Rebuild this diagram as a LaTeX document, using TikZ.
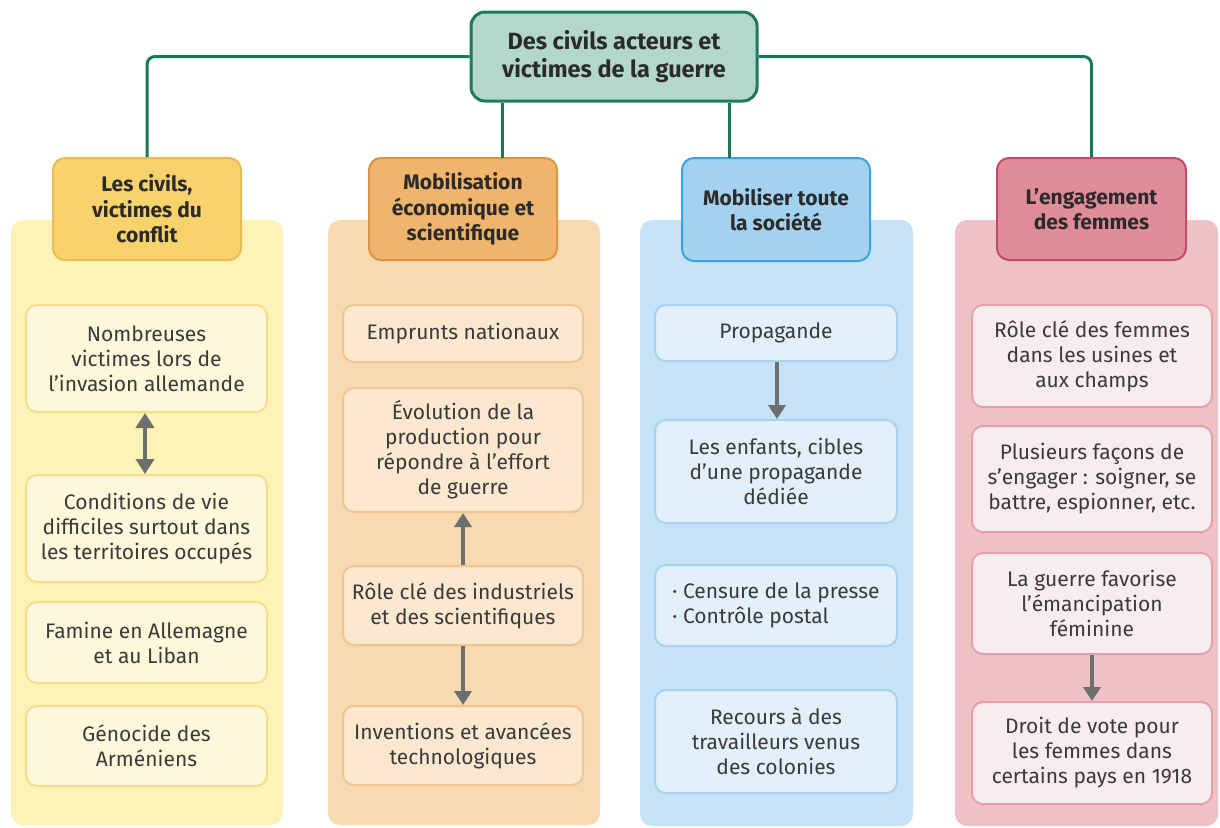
\documentclass[tikz,border=0pt]{standalone}
\usepackage{fontspec}
\setmainfont{Fira Sans}
\usetikzlibrary{arrows.meta}
\definecolor{lineGreen}{HTML}{177A52}
\definecolor{titleFill}{HTML}{B3D8CA}
\definecolor{titleDraw}{HTML}{1E7A58}
\definecolor{pYel}{HTML}{FDF3B6}
\definecolor{hYel}{HTML}{F8D36B}
\definecolor{hYelD}{HTML}{EBBB55}
\definecolor{bYel}{HTML}{FEF8DA}
\definecolor{bYelD}{HTML}{F5DD8C}
\definecolor{pOra}{HTML}{F7D9B2}
\definecolor{hOra}{HTML}{F0B46C}
\definecolor{hOraD}{HTML}{DF9440}
\definecolor{bOra}{HTML}{FBE8CF}
\definecolor{bOraD}{HTML}{F0C590}
\definecolor{pBlu}{HTML}{C5E2F7}
\definecolor{hBlu}{HTML}{A3D2F1}
\definecolor{hBluD}{HTML}{3AA5DC}
\definecolor{bBlu}{HTML}{E2F0FB}
\definecolor{bBluD}{HTML}{A8D3EE}
\definecolor{pRos}{HTML}{EEC1C7}
\definecolor{hRos}{HTML}{E08C99}
\definecolor{hRosD}{HTML}{C14A66}
\definecolor{bRos}{HTML}{F9ECEE}
\definecolor{bRosD}{HTML}{E6A0AB}
\definecolor{arrowGray}{HTML}{6D6E70}
\definecolor{txt}{HTML}{3A3A3A}
\definecolor{txtD}{HTML}{2B2B2B}
\newcommand{\mybox}[7]{\node[#6, minimum width={(#4-#2)*1pt}, minimum height={(#5-#3)*1pt}] (#1) at ({(#2+#4)/2},{(#3+#5)/2}) {#7};}
\begin{document}
\begin{tikzpicture}[x=1pt,y=-1pt,
  panel/.style={fill=#1, rounded corners=12pt},
  titlebox/.style={draw=titleDraw, fill=titleFill, line width=3pt, rounded corners=14pt, inner sep=0pt, align=center, text=txtD, font=\bfseries\fontsize{23.5}{28.5}\selectfont},
  hdr/.style={rounded corners=12pt, line width=2pt, inner sep=0pt, align=center, text=txtD, font=\bfseries\fontsize{21}{25.5}\selectfont},
  item/.style={rounded corners=11pt, line width=2pt, inner sep=0pt, align=center, text=txt, font=\fontsize{21}{25}\selectfont},
  conn/.style={draw=lineGreen, line width=3pt, rounded corners=8pt},
  arr/.style={draw=arrowGray, line width=4pt, -{Triangle[width=17pt,length=14pt]}},
  darr/.style={draw=arrowGray, line width=4pt, {Triangle[width=18pt,length=15pt]}-{Triangle[width=18pt,length=15pt]}}
]
\useasboundingbox (0,0) rectangle (1220,827);
\fill[white] (0,0) rectangle (1220,827);
% panels
\fill[panel=pYel] (11,220) rectangle (283,825);
\fill[panel=pOra] (328,220) rectangle (600,825);
\fill[panel=pBlu] (640,220) rectangle (913,826);
\fill[panel=pRos] (955,220) rectangle (1218,826);
% title
\mybox{t}{471}{12}{757}{101}{titlebox}{Des civils acteurs et\\victimes de la guerre}
% headers
\mybox{h1}{53}{158}{241}{260}{hdr, fill=hYel, draw=hYelD}{Les civils,\\victimes du\\conflit}
\mybox{h2}{369}{158}{557}{260}{hdr, fill=hOra, draw=hOraD}{Mobilisation\\économique et\\scientifique}
\mybox{h3}{682}{158}{870}{261}{hdr, fill=hBlu, draw=hBluD}{Mobiliser toute\\la société}
\mybox{h4}{997}{158}{1186}{260}{hdr, fill=hRos, draw=hRosD}{L’engagement\\des femmes}
% connectors
\draw[conn] (t.west) -| (h1.north);
\draw[conn] (t.east) -| (h4.north);
\coordinate (c2) at (502,158);
\coordinate (c3) at (729,158);
\draw[conn] (t.south -| c2) -- (c2);
\draw[conn] (t.south -| c3) -- (c3);
% column 1
\mybox{a1}{26}{305}{267}{412}{item, fill=bYel, draw=bYelD}{Nombreuses\\victimes lors de\\l’invasion allemande}
\mybox{a2}{26}{475}{267}{582}{item, fill=bYel, draw=bYelD}{Conditions de vie\\difficiles surtout dans\\les territoires occupés}
\mybox{a3}{26}{602}{267}{683}{item, fill=bYel, draw=bYelD}{Famine en Allemagne\\et au Liban}
\mybox{a4}{26}{706}{267}{786}{item, fill=bYel, draw=bYelD}{Génocide des\\Arméniens}
% column 2
\mybox{b1}{343}{305}{583}{362}{item, fill=bOra, draw=bOraD}{Emprunts nationaux}
\mybox{b2}{343}{388}{583}{512}{item, fill=bOra, draw=bOraD}{Évolution de la\\production pour\\répondre à l’effort\\de guerre}
\mybox{b3}{343}{566}{583}{645}{item, fill=bOra, draw=bOraD}{Rôle clé des industriels\\et des scientifiques}
\mybox{b4}{343}{706}{583}{785}{item, fill=bOra, draw=bOraD}{Inventions et avancées\\technologiques}
% column 3
\mybox{c1}{655}{305}{897}{361}{item, fill=bBlu, draw=bBluD}{Propagande}
\mybox{cc2}{655}{420}{897}{523}{item, fill=bBlu, draw=bBluD}{Les enfants, cibles\\d’une propagande\\dédiée}
\mybox{cc3}{655}{565}{897}{646}{item, fill=bBlu, draw=bBluD, align=left}{· Censure de la presse\\· Contrôle postal}
\mybox{cc4}{655}{690}{897}{793}{item, fill=bBlu, draw=bBluD}{Recours à des\\travailleurs venus\\des colonies}
% column 4
\mybox{d1}{972}{305}{1212}{407}{item, fill=bRos, draw=bRosD}{Rôle clé des femmes\\dans les usines et\\aux champs}
\mybox{d2}{972}{426}{1212}{532}{item, fill=bRos, draw=bRosD}{Plusieurs façons de\\s’engager : soigner, se\\battre, espionner, etc.}
\mybox{d3}{972}{553}{1212}{654}{item, fill=bRos, draw=bRosD}{La guerre favorise\\l’émancipation\\féminine}
\mybox{d4}{972}{702}{1212}{804}{item, fill=bRos, draw=bRosD}{Droit de vote pour\\les femmes dans\\certains pays en 1918}
% arrows
\draw[darr] (a1.south -| 145,0) -- (a2.north -| 145,0);
\draw[arr] (b3.north -| 463,0) -- (b2.south -| 463,0);
\draw[arr] (b3.south -| 463,0) -- (b4.north -| 463,0);
\draw[arr] (c1.south -| 777,0) -- (cc2.north -| 777,0);
\draw[arr] (d3.south -| 1092,0) -- (d4.north -| 1092,0);
\end{tikzpicture}
\end{document}
